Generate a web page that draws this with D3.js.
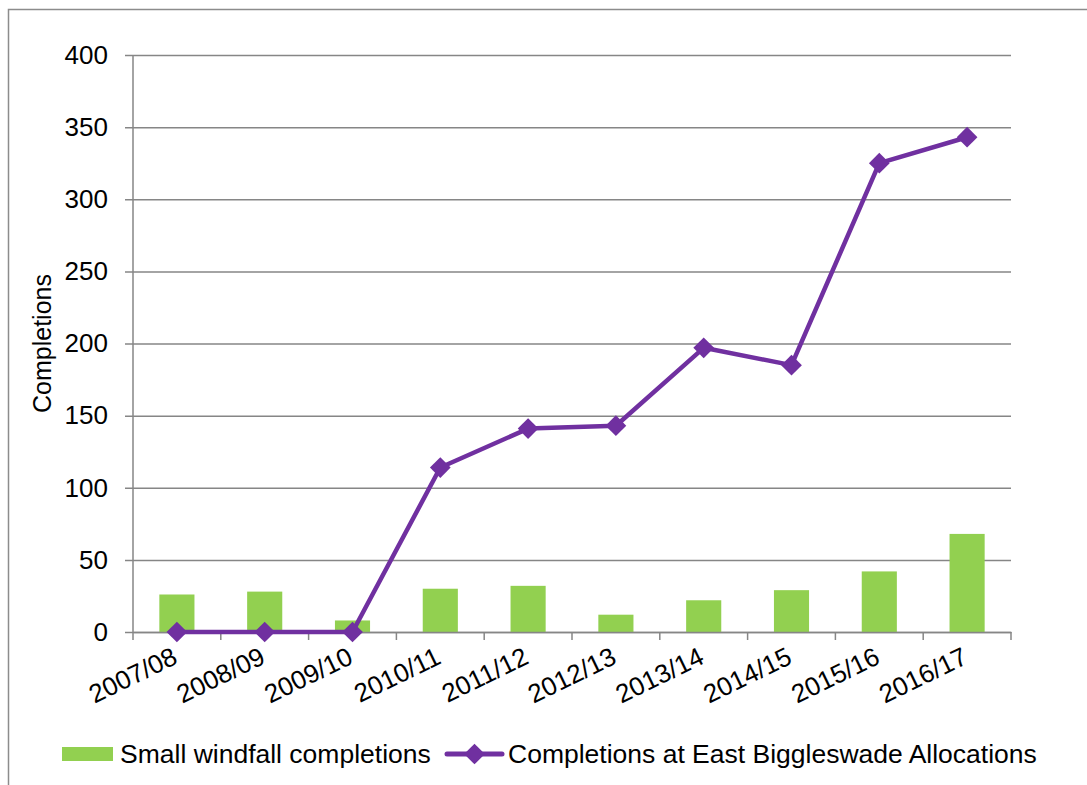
<!DOCTYPE html>
<html>
<head>
<meta charset="utf-8">
<script src="https://cdn.jsdelivr.net/npm/d3@7"></script>
<style>
  html, body { margin: 0; padding: 0; background: #fff; }
  svg { display: block; }
  text { font-family: "Liberation Sans", Arial, sans-serif; fill: #000; }
</style>
</head>
<body>
<svg id="chart" width="1087" height="785"></svg>
<script>
const categories = ["2007/08","2008/09","2009/10","2010/11","2011/12","2012/13","2013/14","2014/15","2015/16","2016/17"];
const windfall = [26, 28, 8, 30, 32, 12, 22, 29, 42, 68];
const eastBiggleswade = [0, 0, 0, 114, 141, 143, 197, 185, 325, 343];
const yTicks = [0, 50, 100, 150, 200, 250, 300, 350, 400];
const seriesNames = ["Small windfall completions", "Completions at East Biggleswade Allocations"];
const yTitle = "Completions";

const green = "#92D050", purple = "#7030A0", grid = "#868686";
const svg = d3.select("#chart");
const m = {left: 133, right: 1011, top: 55, bottom: 632};

// outer chart border
svg.append("rect").attr("x", 8.5).attr("y", 9.5).attr("width", 1100).attr("height", 800)
  .attr("fill", "none").attr("stroke", "#8c8c8c").attr("stroke-width", 1.5);

const x = d3.scaleBand().domain(categories).range([m.left, m.right]).paddingInner(0.6).paddingOuter(0.3);
const xPts = d3.scaleBand().domain(categories).range([m.left, m.right]);
const y = d3.scaleLinear().domain([0, 400]).range([m.bottom, m.top]);

// gridlines + y axis
const yAxis = d3.axisLeft(y).tickValues(yTicks).tickSize(-(m.right - m.left)).tickSizeOuter(0).tickPadding(25);
const gy = svg.append("g").attr("transform", `translate(${m.left},0)`).call(yAxis);
gy.select(".domain").remove();
gy.selectAll(".tick line").attr("stroke", grid).attr("stroke-width", 1.5).attr("x1", -8);
gy.selectAll(".tick text").attr("font-size", 26).attr("font-family", "Liberation Sans, Arial, sans-serif").attr("fill", "#000");
svg.append("line").attr("x1", m.left).attr("x2", m.left).attr("y1", m.top).attr("y2", m.bottom)
  .attr("stroke", grid).attr("stroke-width", 1.5);

// bars
svg.append("g").selectAll("rect").data(windfall).join("rect")
  .attr("x", (d, i) => x(categories[i]))
  .attr("width", x.bandwidth())
  .attr("y", d => y(d))
  .attr("height", d => y(0) - y(d))
  .attr("fill", green);

// x axis
const xAxis = d3.axisBottom(xPts).tickSize(0).tickSizeOuter(0).tickFormat(() => "");
const gx = svg.append("g").attr("transform", `translate(0,${m.bottom})`).call(xAxis);
gx.select(".domain").attr("stroke", grid).attr("stroke-width", 1.5);
const bounds = categories.map(c => xPts(c)).concat([m.right]);
gx.selectAll("line.bt").data(bounds).join("line").attr("class", "bt")
  .attr("x1", d => d).attr("x2", d => d).attr("y1", 0).attr("y2", 8)
  .attr("stroke", grid).attr("stroke-width", 1.5);
gx.selectAll("text.xl").data(categories).join("text").attr("class", "xl")
  .attr("transform", d => `translate(${xPts(d) + xPts.bandwidth() / 2 - 6},${14}) rotate(-26)`)
  .attr("text-anchor", "end").attr("dy", "0.71em").attr("font-size", 26)
  .text(d => d);

// line
const line = d3.line().x((d, i) => xPts(categories[i]) + xPts.bandwidth() / 2).y(d => y(d));
svg.append("path").datum(eastBiggleswade).attr("d", line)
  .attr("fill", "none").attr("stroke", purple).attr("stroke-width", 4.5).attr("stroke-linejoin", "round");
const diamond = d3.symbol().type(d3.symbolSquare).size(215);
svg.append("g").selectAll("path").data(eastBiggleswade).join("path")
  .attr("d", diamond)
  .attr("transform", (d, i) => `translate(${xPts(categories[i]) + xPts.bandwidth() / 2},${y(d)}) rotate(45)`)
  .attr("fill", purple);

// y title
svg.append("text").attr("transform", `translate(51,${(m.top + m.bottom) / 2}) rotate(-90)`)
  .attr("text-anchor", "middle").attr("font-size", 25).text(yTitle);

// legend
const lg = svg.append("g");
lg.append("rect").attr("x", 62).attr("y", 747).attr("width", 51).attr("height", 14).attr("fill", green);
lg.append("text").attr("x", 120).attr("y", 754).attr("dy", "0.35em").attr("font-size", 26.5).text(seriesNames[0]);
lg.append("line").attr("x1", 447).attr("x2", 502).attr("y1", 754).attr("y2", 754)
  .attr("stroke", purple).attr("stroke-width", 5).attr("stroke-linecap", "round");
lg.append("path").attr("d", diamond).attr("transform", "translate(474.5,754) rotate(45)").attr("fill", purple);
lg.append("text").attr("x", 508).attr("y", 754).attr("dy", "0.35em").attr("font-size", 26.5).text(seriesNames[1]);
</script>
</body>
</html>
